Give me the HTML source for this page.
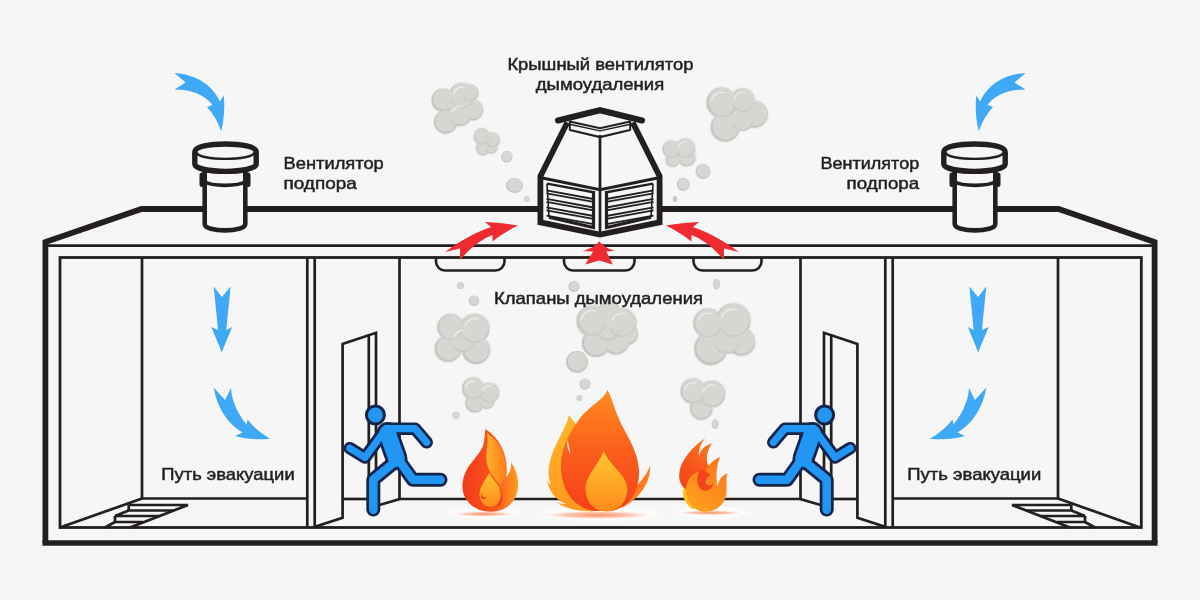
<!DOCTYPE html>
<html lang="ru"><head><meta charset="utf-8"><title>Дымоудаление</title>
<style>
html,body{margin:0;padding:0;background:#f6f6f6;overflow:hidden}
svg{display:block;will-change:transform}
text{font-family:"Liberation Sans",sans-serif;fill:#231f20;font-size:17px;stroke:#231f20;stroke-width:.5px}
.k{stroke:#231f20;fill:none}
.bg{fill:#f6f6f6}
</style></head><body>
<svg width="1200" height="600" viewBox="0 0 1200 600">
<defs>
<!-- GRADIENTS -->
<linearGradient id="gF1" x1="0" y1="0" x2="1" y2="0"><stop offset="0" stop-color="#f23a1b"/><stop offset="0.55" stop-color="#f9551b"/><stop offset="1" stop-color="#ff9a1f"/></linearGradient>
<linearGradient id="gF1m" x1="0" y1="0" x2="1" y2="0"><stop offset="0" stop-color="#ffb22c"/><stop offset="0.5" stop-color="#ff961f"/><stop offset="1" stop-color="#ff7f1c"/></linearGradient>
<linearGradient id="gIn" x1="0" y1="0" x2="0" y2="1"><stop offset="0" stop-color="#ffc730"/><stop offset="1" stop-color="#ff8a1c"/></linearGradient>
<linearGradient id="gMain" x1="0" y1="0" x2="0" y2="1"><stop offset="0" stop-color="#ff8c1d"/><stop offset="0.5" stop-color="#fb5f1c"/><stop offset="1" stop-color="#f43f1b"/></linearGradient>
<linearGradient id="gBack" x1="0" y1="0" x2="0" y2="1"><stop offset="0" stop-color="#ffb52a"/><stop offset="1" stop-color="#ff9a1f"/></linearGradient>
<linearGradient id="gF3" x1="0.8" y1="0" x2="0.1" y2="1"><stop offset="0" stop-color="#fb741c"/><stop offset="0.5" stop-color="#ff8c1d"/><stop offset="1" stop-color="#ffa51f"/></linearGradient>
<linearGradient id="gF3b" x1="0.8" y1="0" x2="0.2" y2="1"><stop offset="0" stop-color="#fb7a1d"/><stop offset="0.6" stop-color="#f6521b"/><stop offset="1" stop-color="#f4441b"/></linearGradient>
<radialGradient id="gHalo"><stop offset="0" stop-color="#ffffff" stop-opacity="0.95"/><stop offset="0.75" stop-color="#fdfdfd" stop-opacity="0.8"/><stop offset="1" stop-color="#fafafa" stop-opacity="0"/></radialGradient>
<radialGradient id="gGlow"><stop offset="0" stop-color="#f98a5a" stop-opacity="0.95"/><stop offset="0.6" stop-color="#fbb090" stop-opacity="0.7"/><stop offset="1" stop-color="#fde0d0" stop-opacity="0"/></radialGradient>
<!-- LEFT HALF (mirrored for right) -->
<g id="half">
  <!-- room lines -->
  <g class="k" stroke-width="2.7">
    <path d="M142,257.5V498.5H307"/>
    <path d="M60,527.5L142,498.5"/>
    <path d="M307.3,257.5V527.5M314.7,257.5V527.5"/>
    <path d="M399.5,257.5V499"/>
    <path d="M400,499L376,506"/>
    <!-- door -->
    <path d="M315,526.7L342.6,517.7V344L376,332.8V506"/>
    <path d="M368.8,335.3V505"/>
    <path d="M343,499H369"/>
    <!-- stairs -->
    <path d="M128.7,505H188L130,527.5"/>
    <path d="M128.7,505V510.5H174"/>
    <path d="M128.7,510.5L115,516H160"/>
    <path d="M115,516V522H143"/>
    <path d="M115,522L105,527.5"/>
  </g>
  <!-- blue arrows -->
  <g fill="#3fa9f5">
    <path d="M174.4,73 C192,74 211,82 220,101.5 L223.8,95.6 C225,108 224,120 221.3,131.3 C218,122 213,113 206.9,106.9 L212.5,105 C205,95 192,89.5 174.4,89.4 L185.6,82.5Z"/>
    <path d="M213.7,286.5 L221.9,297 L230.6,286.5 C229.5,300 227.5,316 226.3,330 L232,327 C229,335 225,344 221.8,352.5 C218.5,344 214.5,335 211.5,327 L218,330 C216.8,316 215,300 213.7,286.5Z"/>
    <path d="M213.7,387.5 L225,400 L231,388 C232,402 238,414 246.5,424.5 L247.5,419.5 C254,428 262,434 270,438.7 C258,440 246,439 235,436 L242.5,432.5 C228,424 217,408 213.7,387.5Z"/>
  </g>
  <!-- fan -->
  <g>
    <path class="bg k" stroke-width="4.6" d="M204.7,168V224 C204.7,232.5 245.3,232.5 245.3,224V168Z"/>
    <path class="k" stroke-width="5" stroke-linecap="round" d="M202,175V184.5M248,175V184.5"/>
    <path class="k" stroke-width="3.6" d="M204,181.5 C212,186.6 238,186.6 246,181.5"/>
    <path class="bg k" stroke-width="5.4" d="M194.8,152 C194.8,141.3 256.2,141.3 256.2,152 V164 C256.2,173.8 194.8,173.8 194.8,164Z"/>
    <path class="k" stroke-width="2.4" d="M196.5,152.5 C198,161 253,161 254.5,152.5"/>
  </g>
  <!-- man -->
  <g fill="none" stroke-linecap="round" stroke-linejoin="round">
    <g stroke="#14244a">
      <circle cx="375.4" cy="415" r="9" stroke-width="3" fill="#2196f3"/>
      <path stroke-width="12.6" d="M349.8,448.2L365,457.5L384,431.5"/>
      <path stroke-width="12.6" d="M387,428.7H415L426.7,442.3"/>
      <path stroke-width="22" d="M387.5,433L396.5,458.5"/>
      <path stroke-width="14" d="M396,461L373.3,479.5V509.6"/>
      <path stroke-width="14" d="M398,459L412.9,479.8H440.5"/>
    </g>
    <g stroke="#2196f3">
      <path stroke-width="7.2" d="M349.8,448.2L365,457.5L384,431.5"/>
      <path stroke-width="7.2" d="M387,428.7H415L426.7,442.3"/>
      <path stroke-width="16.6" d="M387.5,433L396.5,458.5"/>
      <path stroke-width="8.6" d="M396,461L373.3,479.5V509.6"/>
      <path stroke-width="8.6" d="M398,459L412.9,479.8H440.5"/>
    </g>
  </g>
</g>
</defs>

<rect width="1200" height="600" class="bg"/>

<!-- SMOKE outside -->
<g id="smoke">
<g>
<circle cx="445.7" cy="122" r="12.9" fill="#e9ebe8"/>
<circle cx="472.5" cy="110" r="11.7" fill="#e9ebe8"/>
<circle cx="443.3" cy="100.3" r="12.9" fill="#e9ebe8"/>
<circle cx="470" cy="93" r="9.7" fill="#e9ebe8"/>
<circle cx="459.7" cy="114.3" r="13.2" fill="#e9ebe8"/>
<circle cx="462" cy="96" r="14.2" fill="#e9ebe8"/>
<circle cx="445.7" cy="122" r="11.7" fill="#c3c7c1"/>
<circle cx="472.5" cy="110" r="10.5" fill="#c3c7c1"/>
<circle cx="443.3" cy="100.3" r="11.7" fill="#c3c7c1"/>
<circle cx="470" cy="93" r="8.5" fill="#c3c7c1"/>
<circle cx="459.7" cy="114.3" r="12" fill="#c3c7c1"/>
<circle cx="462" cy="96" r="13" fill="#c3c7c1"/>
<circle cx="446.3" cy="121.2" r="10.6" fill="#d5d8d2"/>
<circle cx="473.0" cy="109.3" r="9.6" fill="#d5d8d2"/>
<circle cx="443.9" cy="99.5" r="10.6" fill="#d5d8d2"/>
<circle cx="470.4" cy="92.4" r="7.7" fill="#d5d8d2"/>
<circle cx="460.3" cy="113.5" r="10.9" fill="#d5d8d2"/>
<circle cx="462.6" cy="95.1" r="11.8" fill="#d5d8d2"/>
<path d="M477.4,95.0A7.7,7.7 0 0 1 463.4,96.8" fill="none" stroke="#c9cdc7" stroke-width="1.6" stroke-linecap="round"/>
<path d="M470.1,117.1A10.8,10.8 0 0 1 450.3,119.7" fill="none" stroke="#c9cdc7" stroke-width="1.6" stroke-linecap="round"/>
<path d="M473.3,99.0A11.7,11.7 0 0 1 451.9,101.8" fill="none" stroke="#c9cdc7" stroke-width="1.6" stroke-linecap="round"/>
<path d="M451.8,112.2A8.2,8.2 0 0 1 461.8,106.4" fill="none" stroke="#eceeea" stroke-width="1.3" stroke-linecap="round"/>
<path d="M453.5,93.7A8.8,8.8 0 0 1 464.3,87.5" fill="none" stroke="#eceeea" stroke-width="1.3" stroke-linecap="round"/>
</g>
<g>
<circle cx="483" cy="148.2" r="8.2" fill="#e9ebe8"/>
<circle cx="491" cy="147" r="7.7" fill="#e9ebe8"/>
<circle cx="492.3" cy="140" r="8.7" fill="#e9ebe8"/>
<circle cx="481.8" cy="136.5" r="9.4" fill="#e9ebe8"/>
<circle cx="483" cy="148.2" r="7" fill="#c3c7c1"/>
<circle cx="491" cy="147" r="6.5" fill="#c3c7c1"/>
<circle cx="492.3" cy="140" r="7.5" fill="#c3c7c1"/>
<circle cx="481.8" cy="136.5" r="8.2" fill="#c3c7c1"/>
<circle cx="483.4" cy="147.7" r="6.4" fill="#d5d8d2"/>
<circle cx="491.3" cy="146.5" r="5.9" fill="#d5d8d2"/>
<circle cx="492.7" cy="139.5" r="6.8" fill="#d5d8d2"/>
<circle cx="482.2" cy="135.9" r="7.5" fill="#d5d8d2"/>
<path d="M496.7,148.5A5.9,5.9 0 0 1 485.9,149.9" fill="none" stroke="#c9cdc7" stroke-width="1.6" stroke-linecap="round"/>
<path d="M498.8,141.7A6.8,6.8 0 0 1 486.5,143.4" fill="none" stroke="#c9cdc7" stroke-width="1.6" stroke-linecap="round"/>
<path d="M488.9,138.4A7.4,7.4 0 0 1 475.4,140.2" fill="none" stroke="#c9cdc7" stroke-width="1.6" stroke-linecap="round"/>
</g>
<g>
<circle cx="725.2" cy="127.2" r="15.7" fill="#e9ebe8"/>
<circle cx="754.3" cy="114.3" r="14.7" fill="#e9ebe8"/>
<circle cx="742" cy="119" r="13.2" fill="#e9ebe8"/>
<circle cx="721.7" cy="102.7" r="16.4" fill="#e9ebe8"/>
<circle cx="742.7" cy="100.3" r="13.2" fill="#e9ebe8"/>
<circle cx="725.2" cy="127.2" r="14.5" fill="#c3c7c1"/>
<circle cx="754.3" cy="114.3" r="13.5" fill="#c3c7c1"/>
<circle cx="742" cy="119" r="12" fill="#c3c7c1"/>
<circle cx="721.7" cy="102.7" r="15.2" fill="#c3c7c1"/>
<circle cx="742.7" cy="100.3" r="12" fill="#c3c7c1"/>
<circle cx="725.9" cy="126.2" r="13.2" fill="#d5d8d2"/>
<circle cx="755.0" cy="113.4" r="12.3" fill="#d5d8d2"/>
<circle cx="742.6" cy="118.2" r="10.9" fill="#d5d8d2"/>
<circle cx="722.5" cy="101.6" r="13.8" fill="#d5d8d2"/>
<circle cx="743.3" cy="99.5" r="10.9" fill="#d5d8d2"/>
<path d="M752.4,121.8A10.8,10.8 0 0 1 732.6,124.4" fill="none" stroke="#c9cdc7" stroke-width="1.6" stroke-linecap="round"/>
<path d="M734.9,106.2A13.7,13.7 0 0 1 709.9,109.5" fill="none" stroke="#c9cdc7" stroke-width="1.6" stroke-linecap="round"/>
<path d="M753.1,103.1A10.8,10.8 0 0 1 733.3,105.7" fill="none" stroke="#c9cdc7" stroke-width="1.6" stroke-linecap="round"/>
<path d="M711.7,100.0A10.3,10.3 0 0 1 724.4,92.7" fill="none" stroke="#eceeea" stroke-width="1.3" stroke-linecap="round"/>
<path d="M734.8,98.2A8.2,8.2 0 0 1 744.8,92.4" fill="none" stroke="#eceeea" stroke-width="1.3" stroke-linecap="round"/>
</g>
<g>
<circle cx="672.7" cy="160" r="8.2" fill="#e9ebe8"/>
<circle cx="686.7" cy="157.5" r="10.1" fill="#e9ebe8"/>
<circle cx="671.5" cy="149.3" r="10.1" fill="#e9ebe8"/>
<circle cx="685.5" cy="148.2" r="11.0" fill="#e9ebe8"/>
<circle cx="672.7" cy="160" r="7" fill="#c3c7c1"/>
<circle cx="686.7" cy="157.5" r="8.9" fill="#c3c7c1"/>
<circle cx="671.5" cy="149.3" r="8.9" fill="#c3c7c1"/>
<circle cx="685.5" cy="148.2" r="9.8" fill="#c3c7c1"/>
<circle cx="673.1" cy="159.5" r="6.4" fill="#d5d8d2"/>
<circle cx="687.1" cy="156.9" r="8.1" fill="#d5d8d2"/>
<circle cx="671.9" cy="148.7" r="8.1" fill="#d5d8d2"/>
<circle cx="686.0" cy="147.5" r="8.9" fill="#d5d8d2"/>
<path d="M694.4,159.6A8.0,8.0 0 0 1 679.8,161.5" fill="none" stroke="#c9cdc7" stroke-width="1.6" stroke-linecap="round"/>
<path d="M679.2,151.4A8.0,8.0 0 0 1 664.6,153.3" fill="none" stroke="#c9cdc7" stroke-width="1.6" stroke-linecap="round"/>
<path d="M694.0,150.5A8.8,8.8 0 0 1 677.9,152.6" fill="none" stroke="#c9cdc7" stroke-width="1.6" stroke-linecap="round"/>
<path d="M679.1,146.5A6.7,6.7 0 0 1 687.2,141.8" fill="none" stroke="#eceeea" stroke-width="1.3" stroke-linecap="round"/>
</g>
<g>
<circle cx="448" cy="348.7" r="14.5" fill="#e9ebe8"/>
<circle cx="476" cy="350" r="15.2" fill="#e9ebe8"/>
<circle cx="450.7" cy="327.3" r="14.5" fill="#e9ebe8"/>
<circle cx="474.7" cy="328.7" r="15.9" fill="#e9ebe8"/>
<circle cx="462.7" cy="339.3" r="14.2" fill="#e9ebe8"/>
<circle cx="448" cy="348.7" r="13.3" fill="#c3c7c1"/>
<circle cx="476" cy="350" r="14" fill="#c3c7c1"/>
<circle cx="450.7" cy="327.3" r="13.3" fill="#c3c7c1"/>
<circle cx="474.7" cy="328.7" r="14.7" fill="#c3c7c1"/>
<circle cx="462.7" cy="339.3" r="13" fill="#c3c7c1"/>
<circle cx="448.7" cy="347.8" r="12.1" fill="#d5d8d2"/>
<circle cx="476.7" cy="349.0" r="12.7" fill="#d5d8d2"/>
<circle cx="451.4" cy="326.4" r="12.1" fill="#d5d8d2"/>
<circle cx="475.4" cy="327.7" r="13.4" fill="#d5d8d2"/>
<circle cx="463.3" cy="338.4" r="11.8" fill="#d5d8d2"/>
<path d="M462.3,330.4A12.0,12.0 0 0 1 440.3,333.3" fill="none" stroke="#c9cdc7" stroke-width="1.6" stroke-linecap="round"/>
<path d="M487.5,332.1A13.2,13.2 0 0 1 463.2,335.3" fill="none" stroke="#c9cdc7" stroke-width="1.6" stroke-linecap="round"/>
<path d="M474.0,342.3A11.7,11.7 0 0 1 452.6,345.2" fill="none" stroke="#c9cdc7" stroke-width="1.6" stroke-linecap="round"/>
<path d="M465.0,326.1A10.0,10.0 0 0 1 477.3,319.0" fill="none" stroke="#eceeea" stroke-width="1.3" stroke-linecap="round"/>
<path d="M454.2,337.0A8.8,8.8 0 0 1 465.0,330.8" fill="none" stroke="#eceeea" stroke-width="1.3" stroke-linecap="round"/>
</g>
<g>
<circle cx="474.7" cy="403.3" r="10.5" fill="#e9ebe8"/>
<circle cx="486.7" cy="400.7" r="9.2" fill="#e9ebe8"/>
<circle cx="489.3" cy="392.7" r="11.2" fill="#e9ebe8"/>
<circle cx="473.3" cy="388.7" r="12.4" fill="#e9ebe8"/>
<circle cx="474.7" cy="403.3" r="9.3" fill="#c3c7c1"/>
<circle cx="486.7" cy="400.7" r="8" fill="#c3c7c1"/>
<circle cx="489.3" cy="392.7" r="10" fill="#c3c7c1"/>
<circle cx="473.3" cy="388.7" r="11.2" fill="#c3c7c1"/>
<circle cx="475.2" cy="402.6" r="8.5" fill="#d5d8d2"/>
<circle cx="487.1" cy="400.1" r="7.3" fill="#d5d8d2"/>
<circle cx="489.8" cy="392.0" r="9.1" fill="#d5d8d2"/>
<circle cx="473.9" cy="387.9" r="10.2" fill="#d5d8d2"/>
<path d="M493.7,402.6A7.2,7.2 0 0 1 480.5,404.3" fill="none" stroke="#c9cdc7" stroke-width="1.6" stroke-linecap="round"/>
<path d="M498.0,395.0A9.0,9.0 0 0 1 481.5,397.2" fill="none" stroke="#c9cdc7" stroke-width="1.6" stroke-linecap="round"/>
<path d="M483.0,391.3A10.1,10.1 0 0 1 464.6,393.7" fill="none" stroke="#c9cdc7" stroke-width="1.6" stroke-linecap="round"/>
<path d="M482.7,390.9A6.8,6.8 0 0 1 491.1,386.1" fill="none" stroke="#eceeea" stroke-width="1.3" stroke-linecap="round"/>
<path d="M465.9,386.7A7.6,7.6 0 0 1 475.3,381.3" fill="none" stroke="#eceeea" stroke-width="1.3" stroke-linecap="round"/>
</g>
<g>
<circle cx="609" cy="313" r="12.7" fill="#e9ebe8"/>
<circle cx="596" cy="343" r="15.2" fill="#e9ebe8"/>
<circle cx="627" cy="334" r="12.2" fill="#e9ebe8"/>
<circle cx="616" cy="341" r="14.7" fill="#e9ebe8"/>
<circle cx="608" cy="328" r="14.2" fill="#e9ebe8"/>
<circle cx="592" cy="321" r="16.7" fill="#e9ebe8"/>
<circle cx="622" cy="323" r="15.7" fill="#e9ebe8"/>
<circle cx="609" cy="313" r="11.5" fill="#c3c7c1"/>
<circle cx="596" cy="343" r="14" fill="#c3c7c1"/>
<circle cx="627" cy="334" r="11" fill="#c3c7c1"/>
<circle cx="616" cy="341" r="13.5" fill="#c3c7c1"/>
<circle cx="608" cy="328" r="13" fill="#c3c7c1"/>
<circle cx="592" cy="321" r="15.5" fill="#c3c7c1"/>
<circle cx="622" cy="323" r="14.5" fill="#c3c7c1"/>
<circle cx="609.6" cy="312.2" r="10.5" fill="#d5d8d2"/>
<circle cx="596.7" cy="342.0" r="12.7" fill="#d5d8d2"/>
<circle cx="627.5" cy="333.2" r="10.0" fill="#d5d8d2"/>
<circle cx="616.7" cy="340.1" r="12.3" fill="#d5d8d2"/>
<circle cx="608.6" cy="327.1" r="11.8" fill="#d5d8d2"/>
<circle cx="592.8" cy="319.9" r="14.1" fill="#d5d8d2"/>
<circle cx="622.7" cy="322.0" r="13.2" fill="#d5d8d2"/>
<path d="M619.3,331.0A11.7,11.7 0 0 1 597.9,333.9" fill="none" stroke="#c9cdc7" stroke-width="1.6" stroke-linecap="round"/>
<path d="M605.5,324.6A14.0,14.0 0 0 1 579.9,328.0" fill="none" stroke="#c9cdc7" stroke-width="1.6" stroke-linecap="round"/>
<path d="M634.6,326.4A13.1,13.1 0 0 1 610.7,329.5" fill="none" stroke="#c9cdc7" stroke-width="1.6" stroke-linecap="round"/>
<path d="M581.8,318.3A10.5,10.5 0 0 1 594.7,310.8" fill="none" stroke="#eceeea" stroke-width="1.3" stroke-linecap="round"/>
<path d="M612.5,320.4A9.9,9.9 0 0 1 624.6,313.5" fill="none" stroke="#eceeea" stroke-width="1.3" stroke-linecap="round"/>
</g>
<g>
<circle cx="710.7" cy="348.7" r="17.7" fill="#e9ebe8"/>
<circle cx="741.3" cy="342" r="15.1" fill="#e9ebe8"/>
<circle cx="726.7" cy="339.3" r="15.9" fill="#e9ebe8"/>
<circle cx="708" cy="323.3" r="15.9" fill="#e9ebe8"/>
<circle cx="733.3" cy="320.7" r="18.5" fill="#e9ebe8"/>
<circle cx="710.7" cy="348.7" r="16.5" fill="#c3c7c1"/>
<circle cx="741.3" cy="342" r="13.9" fill="#c3c7c1"/>
<circle cx="726.7" cy="339.3" r="14.7" fill="#c3c7c1"/>
<circle cx="708" cy="323.3" r="14.7" fill="#c3c7c1"/>
<circle cx="733.3" cy="320.7" r="17.3" fill="#c3c7c1"/>
<circle cx="711.5" cy="347.5" r="15.0" fill="#d5d8d2"/>
<circle cx="742.0" cy="341.0" r="12.6" fill="#d5d8d2"/>
<circle cx="727.4" cy="338.3" r="13.4" fill="#d5d8d2"/>
<circle cx="708.7" cy="322.3" r="13.4" fill="#d5d8d2"/>
<circle cx="734.2" cy="319.5" r="15.7" fill="#d5d8d2"/>
<path d="M739.5,342.7A13.2,13.2 0 0 1 715.2,345.9" fill="none" stroke="#c9cdc7" stroke-width="1.6" stroke-linecap="round"/>
<path d="M720.8,326.7A13.2,13.2 0 0 1 696.5,329.9" fill="none" stroke="#c9cdc7" stroke-width="1.6" stroke-linecap="round"/>
<path d="M748.3,324.7A15.6,15.6 0 0 1 719.8,328.5" fill="none" stroke="#c9cdc7" stroke-width="1.6" stroke-linecap="round"/>
<path d="M698.3,320.7A10.0,10.0 0 0 1 710.6,313.6" fill="none" stroke="#eceeea" stroke-width="1.3" stroke-linecap="round"/>
<path d="M721.9,317.7A11.8,11.8 0 0 1 736.3,309.3" fill="none" stroke="#eceeea" stroke-width="1.3" stroke-linecap="round"/>
</g>
<g>
<circle cx="701.3" cy="408.7" r="12.4" fill="#e9ebe8"/>
<circle cx="712" cy="394" r="14.5" fill="#e9ebe8"/>
<circle cx="693.3" cy="391.3" r="14.0" fill="#e9ebe8"/>
<circle cx="701.3" cy="408.7" r="11.2" fill="#c3c7c1"/>
<circle cx="712" cy="394" r="13.3" fill="#c3c7c1"/>
<circle cx="693.3" cy="391.3" r="12.8" fill="#c3c7c1"/>
<circle cx="701.9" cy="407.9" r="10.2" fill="#d5d8d2"/>
<circle cx="712.7" cy="393.1" r="12.1" fill="#d5d8d2"/>
<circle cx="693.9" cy="390.4" r="11.6" fill="#d5d8d2"/>
<path d="M711.0,411.3A10.1,10.1 0 0 1 692.6,413.7" fill="none" stroke="#c9cdc7" stroke-width="1.6" stroke-linecap="round"/>
<path d="M723.6,397.1A12.0,12.0 0 0 1 701.6,400.0" fill="none" stroke="#c9cdc7" stroke-width="1.6" stroke-linecap="round"/>
<path d="M704.4,394.3A11.5,11.5 0 0 1 683.3,397.1" fill="none" stroke="#c9cdc7" stroke-width="1.6" stroke-linecap="round"/>
<path d="M703.3,391.7A9.0,9.0 0 0 1 714.3,385.3" fill="none" stroke="#eceeea" stroke-width="1.3" stroke-linecap="round"/>
<path d="M684.9,389.0A8.7,8.7 0 0 1 695.6,382.9" fill="none" stroke="#eceeea" stroke-width="1.3" stroke-linecap="round"/>
</g>
<ellipse cx="506.8" cy="156.8" rx="5.8" ry="5.8" fill="#c3c7c1"/>
<ellipse cx="507.1" cy="156.4" rx="5.0" ry="5.0" fill="#d5d8d2"/>
<ellipse cx="514.5" cy="185.5" rx="8.5" ry="7.6" fill="#c3c7c1"/>
<ellipse cx="514.9" cy="185.0" rx="7.3" ry="6.5" fill="#d5d8d2"/>
<ellipse cx="526.9" cy="199" rx="2.8" ry="2.8" fill="#c3c7c1"/>
<ellipse cx="527.0" cy="198.8" rx="2.4" ry="2.4" fill="#d5d8d2"/>
<ellipse cx="703" cy="171.5" rx="7.5" ry="7.5" fill="#c3c7c1"/>
<ellipse cx="703.4" cy="171.0" rx="6.5" ry="6.5" fill="#d5d8d2"/>
<ellipse cx="683.2" cy="184.3" rx="6.5" ry="6.5" fill="#c3c7c1"/>
<ellipse cx="683.5" cy="183.8" rx="5.6" ry="5.6" fill="#d5d8d2"/>
<ellipse cx="675" cy="199" rx="2.2" ry="3" fill="#c3c7c1"/>
<ellipse cx="460.5" cy="285.5" rx="3.5" ry="3.5" fill="#c3c7c1"/>
<ellipse cx="460.7" cy="285.3" rx="3.0" ry="3.0" fill="#d5d8d2"/>
<ellipse cx="474" cy="300.7" rx="5.3" ry="5.3" fill="#c3c7c1"/>
<ellipse cx="474.3" cy="300.3" rx="4.6" ry="4.6" fill="#d5d8d2"/>
<ellipse cx="456" cy="415.3" rx="3.5" ry="3.5" fill="#c3c7c1"/>
<ellipse cx="456.2" cy="415.1" rx="3.0" ry="3.0" fill="#d5d8d2"/>
<ellipse cx="574" cy="286.5" rx="5.5" ry="5.5" fill="#c3c7c1"/>
<ellipse cx="574.3" cy="286.1" rx="4.7" ry="4.7" fill="#d5d8d2"/>
<ellipse cx="577" cy="362" rx="11" ry="11" fill="#c3c7c1"/>
<ellipse cx="577.5" cy="361.2" rx="9.5" ry="9.5" fill="#d5d8d2"/>
<ellipse cx="585" cy="384" rx="5.6" ry="5.6" fill="#c3c7c1"/>
<ellipse cx="585.3" cy="383.6" rx="4.8" ry="4.8" fill="#d5d8d2"/>
<ellipse cx="579.4" cy="398" rx="3" ry="3" fill="#c3c7c1"/>
<ellipse cx="579.5" cy="397.8" rx="2.6" ry="2.6" fill="#d5d8d2"/>
<ellipse cx="716.5" cy="284" rx="3.5" ry="5.3" fill="#c3c7c1"/>
<ellipse cx="716.7" cy="283.6" rx="3.0" ry="4.6" fill="#d5d8d2"/>
<ellipse cx="715.2" cy="424.1" rx="3.7" ry="4.8" fill="#c3c7c1"/>
<ellipse cx="715.4" cy="423.8" rx="3.2" ry="4.1" fill="#d5d8d2"/>
</g>

<!-- BUILDING -->
<g class="k">
  <path stroke-width="5.8" stroke-linejoin="miter" d="M45.4,543V242L141.5,209H1058.5L1154.6,242V543"/>
  <path stroke-width="5.6" d="M42.5,543H1157.5"/>
  <path stroke-width="2.8" d="M45.5,245.7H1154.5"/>
  <rect stroke-width="2.8" x="60" y="257.5" width="1081.3" height="270"/>
  <path stroke-width="2.7" d="M399.5,499H800.5"/>
  <!-- valves -->
  <g stroke-width="2.6">
    <path d="M436,257.5V261.5A9,9 0 0 0 445,270.5H495.5A9,9 0 0 0 504.5,261.5V257.5"/>
    <path d="M564,257.5V261.5A9,9 0 0 0 573,270.5H625.5A9,9 0 0 0 634.5,261.5V257.5"/>
    <path d="M693.5,257.5V261.5A9,9 0 0 0 702.5,270.5H752.5A9,9 0 0 0 761.5,261.5V257.5"/>
  </g>
</g>
<use href="#half"/>
<use href="#half" transform="translate(1200,0) scale(-1,1)"/>

<!-- ROOF FAN -->
<g id="rooffan">
  <path class="bg" d="M567,123L540.3,176.5V222.3L600,235L659.7,222.3V176.5L633,123Z"/>
  <g class="k">
    <path stroke-width="2.4" d="M547,183.6L593.5,192.3"/><path stroke-width="3.2" d="M593.5,191V227.5L549,217.2" stroke-linejoin="miter"/><path stroke-width="1.6" d="M549,217.2L547,183.6"/>
    <path stroke-width="2.4" d="M653,183.6L606.5,192.3"/><path stroke-width="3.2" d="M606.5,191V227.5L651,217.2" stroke-linejoin="miter"/><path stroke-width="1.6" d="M651,217.2L653,183.6"/>
    <g stroke-width="1.8">
      <path d="M546.5,190.4L593.5,199.0M546.5,193.3L593.5,201.9M546.5,198.9L593.5,207.5M546.5,201.8L593.5,210.4M546.5,207.4L593.5,216.0M546.5,210.3L593.5,218.9M546.5,215.6L593.5,224.2"/>
      <path d="M653.5,190.4L606.5,199.0M653.5,193.3L606.5,201.9M653.5,198.9L606.5,207.5M653.5,201.8L606.5,210.4M653.5,207.4L606.5,216.0M653.5,210.3L606.5,218.9M653.5,215.6L606.5,224.2"/>
    </g>
    <path stroke-width="3" d="M541,177.8L600,189.7L659,177.8"/>
    <path stroke-width="2.7" d="M600,135V235"/>
    <path stroke-width="5.8" stroke-linejoin="miter" d="M567.3,122.5L540.4,176.3V222.3L600,234.6L659.6,222.3V176.3L632.7,122.5"/>
    <path stroke-width="2" d="M569.8,121V130.5M630.2,121V130.5"/>
    <path stroke-width="2" d="M569.6,121.5L600,128.2L630.4,121.5"/>
    <path stroke-width="1.4" d="M569.6,124.2L600,130.9L630.4,124.2"/>
    <path stroke-width="2.2" d="M570,130L600,137L630,130"/>
    <path stroke-width="6.1" stroke-linecap="round" stroke-linejoin="miter" d="M558,120.5L600,110.2L642,120.5"/>
  </g>
</g>

<!-- RED ARROWS -->
<g fill="#ee2b30">
  <path id="ra" d="M445,252 C459,241.5 475,232.5 491,227 L485,222 C496,222.5 507,223.5 518,225.5 C509,230 500,235.5 492.5,241.5 L492.5,235 C482,239 471,247 460,260 L460,248.5Z"/>
  <use href="#ra" transform="translate(1184,0) scale(-1,1)"/>
  <path d="M599.3,241.2 C603,246 609,249.5 615.8,250.6 L606.3,251.6 L612.8,264.4 L599.3,260.6 L585.2,264.4 L593,251.6 L582.2,251 C589,249.5 595.5,246 599.3,241.2Z"/>
</g>

<!-- FIRES -->
<g id="fires">
  <ellipse cx="482" cy="513" rx="42" ry="7" fill="url(#gHalo)"/>
  <ellipse cx="601" cy="514" rx="68" ry="9" fill="url(#gHalo)"/>
  <ellipse cx="712" cy="512.5" rx="42" ry="7" fill="url(#gHalo)"/>
  <ellipse cx="484" cy="514" rx="31" ry="2.6" fill="url(#gGlow)"/>
  <ellipse cx="598" cy="515" rx="56" ry="4.2" fill="url(#gGlow)"/>
  <ellipse cx="710" cy="512.8" rx="33" ry="2.4" fill="url(#gGlow)"/>
  <!-- left -->
  <path fill="url(#gF1)" d="M485.4,429 C484.5,434 485,440 483,446 C480,453 474,459 469,466 C462,476 460,490 466,499 C471,507 480,511.8 491,511.8 C501,511.8 510,507 515,498 C520,489 519,473 511,462.6 C511.5,468 509.5,474 506.2,477.4 C509,458 502,440 485.4,429Z"/>
  <path fill="url(#gF1m)" d="M487,433 C495,438 503,449 505.5,464 C506.5,472 505,480 500,485 C494,478 488,471 486.5,461 C485.5,451 489,443 487,433Z"/>
  <path fill="#f5431b" d="M478,486 C476,494 479,503 487,508 L500,506 C504,500 503,492 500,488Z"/>
  <path fill="url(#gIn)" d="M489.4,472.4 C486,480 479,486 479.5,495 C480,503 486,507.5 491,507 C498,506.5 502,499 500.3,491 C498.5,483 492,480 489.4,472.4Z"/>
  <path fill="#f5431b" d="M481,492.5 C482,497 485,498.5 487,496.5 C486,499.5 482.5,500 481,497.5Z"/>
  <!-- center -->
  <path fill="url(#gBack)" d="M569,415 C566,430 552,446 549,466 C548,474 549,480 551,485 C549,484 548,482 547,480 C549,492 556,500 566,504 C562,504 558,503 556,502 C566,509 580,512 596,511 L588,440Z"/>
  <path fill="#ff7d1c" d="M650,466 C651,480 642,497 622,508 L630,490 C638,486 646,476 650,466Z"/>
  <path fill="url(#gMain)" d="M607.5,390 C603,401 588,406 578,421 C566,438 558,456 562,478 C566,498 580,510 596,511 L612,511 C628,508 640,492 639,470 C638,450 625,433 619,419 C614,408 612,398 607.5,390Z"/>
  <path fill="#ffe9c9" d="M567.5,440 C566.5,446 568,450 570.5,454 C569.5,449 569,444 567.5,440Z"/>
  <path fill="url(#gIn)" d="M603.7,451 C598,466 585,476 585.5,490 C586,503 595,511.5 606,511.5 C618,511.5 627.5,502 627.3,489 C627,475 610,466 603.7,451Z"/>
  <!-- right -->
  <path fill="#ffc21f" d="M687,482 C680.5,489 681.5,502 693,509.5 L702,500Z"/>
  <path fill="url(#gF3b)" d="M705.2,438.2 C696,444 685,455 681,466 C677,477 679.5,487 689,491 L712,486 L709,466 C705.5,462 706,452 712,443.5 C705,445 700,450 699,456.5 C698,450 701,443 705.2,438.2Z"/>
  <path fill="url(#gF3)" d="M698.5,472 C690.5,474 686,482 686,490.5 C686,502.5 694,511.7 705.5,511.7 C717,511.7 725.5,503.5 726.5,492.5 C727,484 725.5,478 727.7,473.5 C722,475 718.5,480 717.5,487.5 C715.5,476 716.5,465 720.2,457 C712.5,460 707,466 705.5,473.5 C703.5,472 701,471.5 698.5,472Z"/>
  <path fill="#f5431b" d="M700.5,469.5 C696,476 696,486 702,490 C707,492.5 712.5,489 713.5,482 C711.5,486 707.5,487 706,483.5 C705,480 707.5,476.5 710.5,475.5 C707.5,472 704,470 700.5,469.5Z"/>
</g>

<!-- TEXT -->
<g style="opacity:.995">
  <text x="507.4" y="69.8" textLength="186" lengthAdjust="spacingAndGlyphs">Крышный вентилятор</text>
  <text x="535.8" y="89.9" textLength="128.4" lengthAdjust="spacingAndGlyphs">дымоудаления</text>
  <text x="283.5" y="168.8" textLength="100.3" lengthAdjust="spacingAndGlyphs">Вентилятор</text>
  <text x="283.5" y="189.4" textLength="73.2" lengthAdjust="spacingAndGlyphs">подпора</text>
  <text x="820.6" y="168.8" textLength="98.6" lengthAdjust="spacingAndGlyphs">Вентилятор</text>
  <text x="846.6" y="189.4" textLength="72.6" lengthAdjust="spacingAndGlyphs">подпора</text>
  <text x="494" y="303.6" textLength="209" lengthAdjust="spacingAndGlyphs">Клапаны дымоудаления</text>
  <text x="161.3" y="480.3" textLength="133.4" lengthAdjust="spacingAndGlyphs">Путь эвакуации</text>
  <text x="907.3" y="480.3" textLength="134" lengthAdjust="spacingAndGlyphs">Путь эвакуации</text>
</g>
</svg>
</body></html>
